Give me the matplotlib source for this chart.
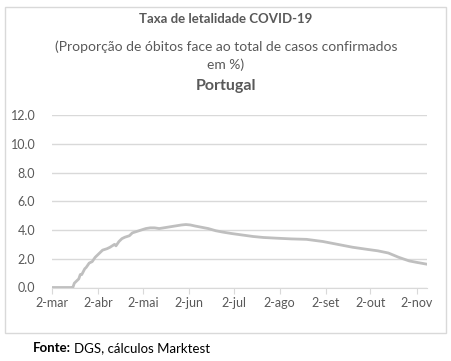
import datetime as dt
import matplotlib
matplotlib.use("Agg")
import matplotlib.pyplot as plt
from matplotlib.patches import Rectangle

# fatality rate (%)
dates = ["2020-03-02", "2020-03-15", "2020-03-16", "2020-03-17", "2020-03-19", "2020-03-20",
         "2020-03-21", "2020-03-22", "2020-03-23", "2020-03-24", "2020-03-25", "2020-03-27",
         "2020-03-29", "2020-03-31", "2020-04-02", "2020-04-05", "2020-04-08", "2020-04-10",
         "2020-04-13", "2020-04-14", "2020-04-16", "2020-04-18", "2020-04-20", "2020-04-23",
         "2020-04-25", "2020-04-28", "2020-05-01", "2020-05-04", "2020-05-07", "2020-05-10",
         "2020-05-13", "2020-05-16", "2020-05-19", "2020-05-22", "2020-05-25", "2020-05-28",
         "2020-05-31", "2020-06-03", "2020-06-06", "2020-06-10", "2020-06-15", "2020-06-20",
         "2020-06-25", "2020-07-01", "2020-07-08", "2020-07-15", "2020-07-22", "2020-07-31",
         "2020-08-10", "2020-08-20", "2020-08-31", "2020-09-10", "2020-09-20", "2020-09-30",
         "2020-10-07", "2020-10-14", "2020-10-21", "2020-10-28", "2020-11-02", "2020-11-09"]
rate = [0.0, 0.0, 0.0, 0.3, 0.5, 0.6,
        0.9, 0.9, 1.1, 1.3, 1.4, 1.7,
        1.8, 2.1, 2.3, 2.6, 2.7, 2.8,
        3.0, 2.9, 3.2, 3.4, 3.5, 3.6,
        3.8, 3.9, 4.0, 4.1, 4.15, 4.15,
        4.1, 4.15, 4.2, 4.25, 4.3, 4.35,
        4.38, 4.35, 4.28, 4.2, 4.1, 3.95,
        3.85, 3.75, 3.65, 3.55, 3.48, 3.43,
        3.38, 3.35, 3.2, 3.0, 2.8, 2.65,
        2.55, 2.4, 2.1, 1.85, 1.75, 1.62]

tick_dates = ["2020-03-02", "2020-04-02", "2020-05-02", "2020-06-02", "2020-07-02",
              "2020-08-02", "2020-09-02", "2020-10-02", "2020-11-02"]
tick_labels = ["2-mar", "2-abr", "2-mai", "2-jun", "2-jul", "2-ago", "2-set", "2-out", "2-nov"]
yticks = [0, 2, 4, 6, 8, 10, 12]

plt.rcParams['font.family'] = ['Lato', 'DejaVu Sans']
txt = '#595959'

x = [dt.datetime.strptime(d, "%Y-%m-%d") for d in dates]
xt = [dt.datetime.strptime(d, "%Y-%m-%d") for d in tick_dates]

fig = plt.figure(figsize=(4.52, 3.61), dpi=100)
# chart frame
fig.patches.append(Rectangle((5 / 452, 1 - 333 / 361), 441 / 452, 326 / 361,
                             transform=fig.transFigure, fill=False,
                             edgecolor='#d9d9d9', lw=1))

ax = fig.add_axes([52 / 452, 1 - 287.5 / 361, 375 / 452, 172.5 / 361])
ax.plot(x, rate, color='#bfbfbf', lw=2)
ax.set_xlim(x[0], x[-1])
ax.set_ylim(0, 12)
ax.set_yticks(yticks)
ax.set_yticklabels(["%.1f" % v for v in yticks])
ax.set_xticks(xt)
ax.set_xticklabels(tick_labels)
ax.grid(axis='y', color='#d9d9d9', lw=1)
ax.set_axisbelow(True)
for s in ['top', 'right', 'left']:
    ax.spines[s].set_visible(False)
ax.spines['bottom'].set_color('#d9d9d9')
ax.tick_params(axis='y', length=0, pad=12, labelsize=9, labelcolor=txt)
ax.tick_params(axis='x', length=4, color='#d9d9d9', pad=3, labelsize=9, labelcolor=txt)

fig.text(0.5, 1 - 19 / 361, "Taxa de letalidade COVID-19", ha='center', va='center',
         fontsize=9.5, fontweight='bold', color=txt)
fig.text(0.5, 1 - 47 / 361, "(Proporção de óbitos face ao total de casos confirmados",
         ha='center', va='center', fontsize=10, color=txt)
fig.text(0.5, 1 - 65 / 361, "em %)", ha='center', va='center', fontsize=10, color=txt)
fig.text(0.5, 1 - 86 / 361, "Portugal", ha='center', va='center', fontsize=11.5,
         fontweight='bold', color=txt)

# footer: bold "Fonte:" followed by regular text
f1 = fig.text(33 / 452, 1 - 348 / 361, "Fonte:", ha='left', va='center', fontsize=9.5,
              fontweight='bold', color='black')
fig.canvas.draw()
bb = f1.get_window_extent()
fig.text((bb.x1 + 3) / 452, 1 - 348 / 361, "DGS, cálculos Marktest", ha='left',
         va='center', fontsize=9.5, color='black')

fig.savefig("out.png", dpi=100)
